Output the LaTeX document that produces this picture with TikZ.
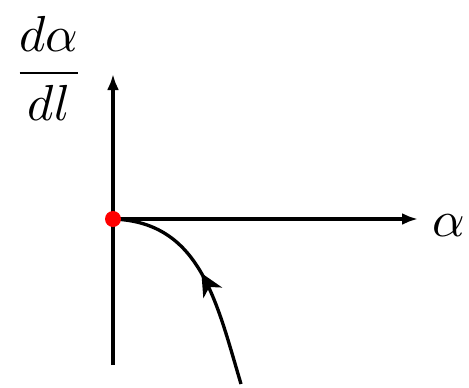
\documentclass[tikz,border=0pt]{standalone}
\usepackage{amsmath}
\usetikzlibrary{arrows.meta,decorations.markings}
\begin{document}
\begin{tikzpicture}[x=0.75pt,y=-0.75pt,
  axis/.style={line width=3pt,-{Latex[length=12pt,width=9pt]}},
  flow/.style={line width=2.5pt,postaction={decorate},
    decoration={markings,mark=at position 0.52 with {\arrow{Stealth[length=17pt,width=16pt,inset=5pt]}}}},
  lbl/.style={inner sep=0pt,scale=3.8},
  fixed/.style={fill=red,circle,inner sep=0pt,minimum size=12pt}]
\useasboundingbox (0,0) rectangle (469,387);
\coordinate (vb) at (113,365);
\coordinate (vt) at (113,74);
\coordinate (ht) at (418,219);
\coordinate (cend) at (241,384);
\node[lbl] (ylab) at (49,68) {$\dfrac{d\alpha}{dl}$};
\node[lbl,anchor=west] (xlab) at (431,226) {$\alpha$};
\draw[axis] (vb) -- (vt);
\draw[axis] (113,219) -- (ht);
\draw[flow] (cend) .. controls (216,300) and (200,222) .. (113,219);
\node[fixed] (origin) at (113,219) {};
\end{tikzpicture}
\end{document}
